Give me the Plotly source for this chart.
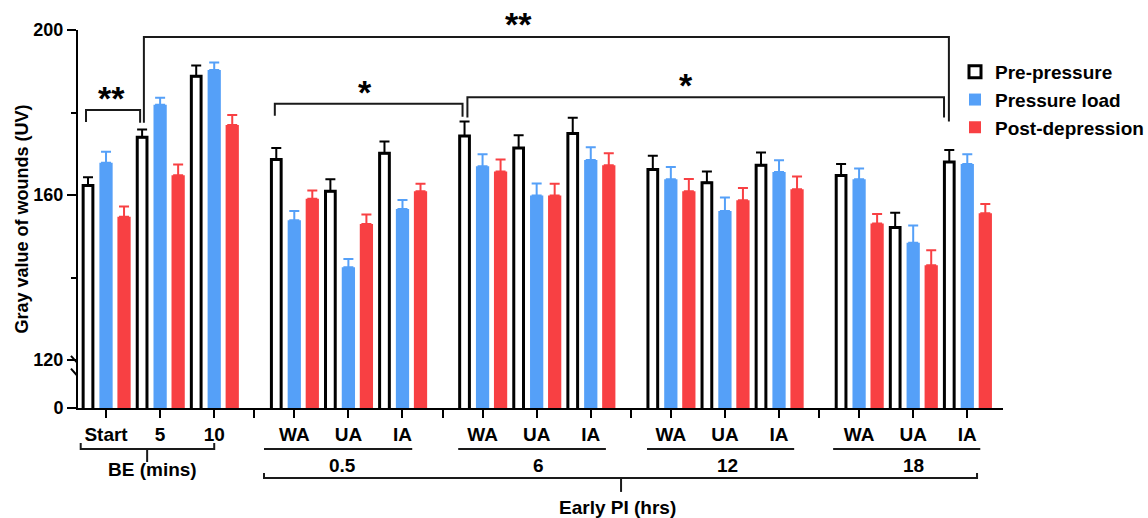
import plotly.graph_objects as go

# ---------------- data ----------------
categories = ["Start", "5", "10",
              "WA", "UA", "IA",
              "WA", "UA", "IA",
              "WA", "UA", "IA",
              "WA", "UA", "IA"]
block_of = [0, 0, 0, 1, 1, 1, 2, 2, 2, 3, 3, 3, 4, 4, 4]
block_labels = ["0.5", "6", "12", "18"]

pre_pressure = [162.3, 174.0, 188.8, 168.6, 160.9, 170.1, 174.3, 171.4, 174.9,
                166.2, 163.0, 167.2, 164.7, 152.1, 168.0]
pre_err = [2.0, 1.9, 2.6, 2.8, 2.9, 2.9, 3.5, 3.1, 3.8, 3.3, 2.7, 3.1, 2.8, 3.6, 2.9]

pressure_load = [167.8, 181.9, 190.3, 153.9, 142.5, 156.6, 167.0, 159.9, 168.5,
                 163.8, 156.1, 165.6, 163.8, 148.4, 167.5]
load_err = [2.7, 1.7, 1.8, 2.2, 2.0, 2.2, 2.9, 2.9, 3.1, 3.0, 3.3, 2.8, 2.6, 4.2, 2.4]

post_depression = [154.7, 164.8, 177.0, 159.1, 153.0, 160.9, 165.7, 159.9, 167.2,
                   160.9, 158.7, 161.4, 153.1, 143.0, 155.6]
post_err = [2.5, 2.6, 2.4, 2.0, 2.3, 1.8, 2.9, 2.8, 2.9, 3.0, 3.0, 3.1, 2.3, 3.6, 2.2]

# ---------------- layout helpers ----------------
FONT = "Liberation Sans, Arial, Helvetica, sans-serif"
BLUE = "#55A0F8"
RED = "#F84043"
GAP = 0.48
YBOT = 120 - 48 / 4.125   # position of the broken-axis "0"

xpos = [i + GAP * b for i, b in enumerate(block_of)]
seps = [(xpos[i] + xpos[i + 1]) / 2 for i in range(len(xpos) - 1)
        if block_of[i] != block_of[i + 1]]
n = len(xpos)

fig = go.Figure()
fig.add_bar(x=xpos, y=pre_pressure, name="Pre-pressure", legendgroup="a",
            width=0.18, offset=-0.333 - 0.09,
            marker=dict(color="white", line=dict(color="black", width=3)),
            error_y=dict(type="data", symmetric=False, array=pre_err,
                         arrayminus=[0] * n, color="black", thickness=2, width=5))
fig.add_bar(x=xpos, y=pressure_load, name="Pressure load", legendgroup="b",
            width=0.245, offset=-0.1225,
            marker=dict(color=BLUE, line=dict(width=0)),
            error_y=dict(type="data", symmetric=False, array=load_err,
                         arrayminus=[0] * n, color=BLUE, thickness=2, width=5))
fig.add_bar(x=xpos, y=post_depression, name="Post-depression", legendgroup="c",
            width=0.245, offset=0.333 - 0.1225,
            marker=dict(color=RED, line=dict(width=0)),
            error_y=dict(type="data", symmetric=False, array=post_err,
                         arrayminus=[0] * n, color=RED, thickness=2, width=5))

shapes = []
annotations = []
LC = "#1a1a1a"

def bracket(x1, x2, y, yl, yr):
    shapes.append(dict(type="path", xref="x", yref="y",
                       path=f"M {x1},{yl} L {x1},{y} L {x2},{y} L {x2},{yr}",
                       line=dict(color=LC, width=2)))

def star(x, y, txt, yref="y"):
    annotations.append(dict(x=x, y=y, xref="x", yref=yref, text=txt, showarrow=False,
                            font=dict(size=34, weight="bold", color="black"),
                            xanchor="center", yanchor="middle"))

bracket(-0.37, 0.63, 180.6, 177.7, 177.5)
star(0.11, 183.5, "**")
bracket(0.70, 15.58, 198.3, 177.5, 177.8)
star(7.63, 1.016, "**", yref="paper")
bracket(3.12, 6.59, 182.1, 179.2, 179.0)
star(4.79, 185.0, "*")
bracket(6.68, 15.49, 183.7, 178.8, 178.8)
star(10.72, 186.7, "*")

# below-axis group labels
def under(x1, x2, y):
    shapes.append(dict(type="line", xref="x", yref="paper", x0=x1, x1=x2, y0=y, y1=y,
                       line=dict(color=LC, width=2)))

def label(x, y, txt):
    annotations.append(dict(x=x, y=y, xref="x", yref="paper", text=txt, showarrow=False,
                            font=dict(size=19, weight="bold", color="black"),
                            xanchor="center", yanchor="middle"))

# BE bracket
shapes.append(dict(type="path", xref="x", yref="paper",
                   path="M -0.468,-0.0926 L -0.468,-0.1085 L 2.0,-0.1085 L 2.0,-0.0926",
                   line=dict(color=LC, width=2)))
shapes.append(dict(type="line", xref="x", yref="paper", x0=0.76, x1=0.76,
                   y0=-0.1085, y1=-0.1429, line=dict(color=LC, width=2)))
label(0.85, -0.164, "BE (mins)")

ul = [(2.92, 5.66, 4.38), (6.51, 9.24, 7.99), (10.0, 12.72, 11.48), (13.44, 16.16, 14.92)]
for (a, b, c), t in zip(ul, block_labels):
    under(a, b, -0.1085)
    label(c, -0.152, t)

shapes.append(dict(type="path", xref="x", yref="paper",
                   path="M 2.92,-0.172 L 2.92,-0.185 L 16.1,-0.185 L 16.1,-0.172",
                   line=dict(color=LC, width=2)))
shapes.append(dict(type="line", xref="x", yref="paper", x0=9.52, x1=9.52,
                   y0=-0.185, y1=-0.222, line=dict(color=LC, width=2)))
label(9.45, -0.264, "Early PI (hrs)")

# axis break marks
for y0 in (0.138, 0.104):
    shapes.append(dict(type="line", xref="paper", yref="paper",
                       x0=-0.0076, x1=-0.001, y0=y0, y1=y0 - 0.018,
                       line=dict(color="black", width=2)))

fig.update_layout(
    width=1148, height=518,
    margin=dict(l=78, r=145, t=30, b=110, autoexpand=False),
    plot_bgcolor="white", paper_bgcolor="white",
    barmode="overlay",
    font=dict(family=FONT, color="black"),
    shapes=shapes, annotations=annotations,
    legend=dict(xref="container", yref="container",
                x=955 / 1148, xanchor="left", y=1 - 53 / 518, yanchor="top",
                font=dict(size=19, weight="bold", color="black"),
                bgcolor="rgba(0,0,0,0)", tracegroupgap=0),
    xaxis=dict(range=[-0.518, 16.58], tickvals=xpos + seps,
               ticktext=categories + [""] * len(seps),
               ticks="outside", ticklen=8, tickwidth=2, tickcolor="black",
               showline=True, linewidth=2, linecolor="black",
               showgrid=False, zeroline=False,
               tickfont=dict(size=19, weight="bold", color="black")),
    yaxis=dict(range=[YBOT, 200], tickvals=[YBOT, 120, 160, 200],
               ticktext=["0", "120", "160", "200"],
               ticks="outside", ticklen=9, tickwidth=2, tickcolor="black",
               showline=True, linewidth=2, linecolor="black",
               showgrid=False, zeroline=False,
               tickfont=dict(size=18, weight="bold", color="black"),
               minor=dict(tickvals=[140, 180], ticks="outside", ticklen=5,
                          tickwidth=2, tickcolor="black", showgrid=False),
               title=dict(text="Gray value of wounds (UV)", standoff=0,
                          font=dict(size=18, weight="bold", color="black"))),
)

fig.write_html("out.html", config={"displayModeBar": False},
               post_script="document.body.style.margin='0px';document.body.style.overflow='hidden';")
